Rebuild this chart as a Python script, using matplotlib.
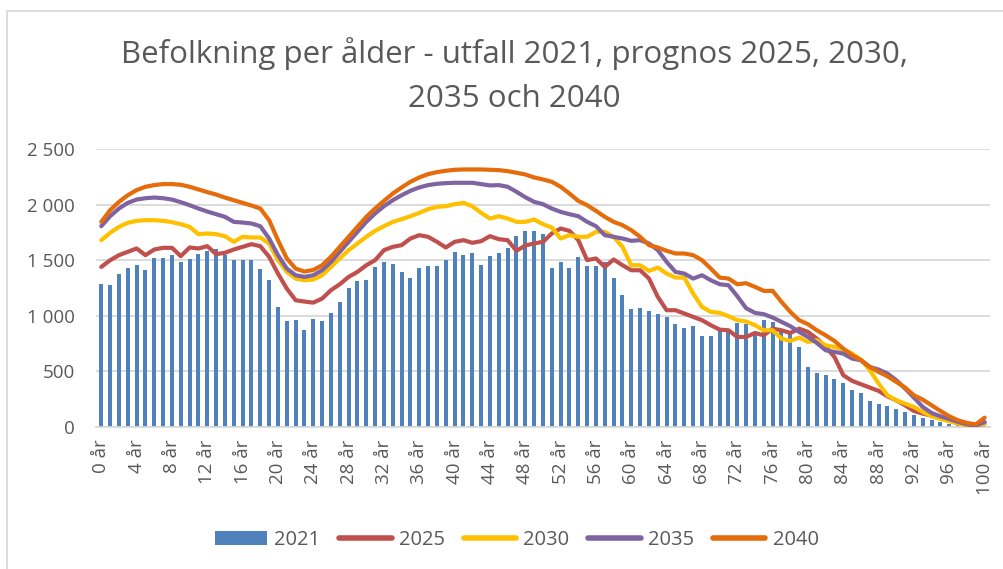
import matplotlib.pyplot as plt
from matplotlib.patches import Rectangle
from matplotlib.ticker import FuncFormatter

plt.rcParams['font.family'] = ['Open Sans', 'DejaVu Sans']

ages = list(range(101))

# utfall 2021 (staplar)
pop_2021 = [1292, 1277, 1379, 1430, 1460, 1415, 1518, 1518, 1545, 1485,
            1515, 1557, 1581, 1605, 1548, 1503, 1503, 1500, 1427, 1328,
            1082, 953, 962, 877, 971, 953, 1028, 1124, 1256, 1319,
            1322, 1442, 1484, 1469, 1394, 1340, 1430, 1454, 1451, 1500,
            1575, 1550, 1563, 1460, 1536, 1569, 1614, 1719, 1762, 1764,
            1740, 1436, 1490, 1436, 1530, 1448, 1448, 1484, 1346, 1193,
            1067, 1073, 1046, 1019, 989, 932, 889, 907, 823, 817,
            862, 871, 935, 927, 856, 968, 947, 871, 841, 721,
            541, 487, 466, 436, 400, 337, 310, 231, 210, 192,
            165, 135, 105, 84, 60, 45, 30, 21, 12, 8, 12]

# prognoser (linjer)
pop_2025 = [1442, 1502, 1548, 1578, 1608, 1548, 1599, 1614, 1614, 1539,
            1617, 1608, 1629, 1557, 1569, 1599, 1623, 1647, 1629, 1533,
            1382, 1247, 1142, 1130, 1120, 1157, 1232, 1286, 1352, 1397,
            1457, 1503, 1593, 1623, 1638, 1698, 1728, 1713, 1668, 1617,
            1668, 1683, 1659, 1674, 1719, 1692, 1683, 1587, 1635, 1653,
            1668, 1743, 1788, 1767, 1683, 1503, 1518, 1442, 1509, 1457,
            1412, 1412, 1337, 1172, 1052, 1052, 1022, 992, 962, 917,
            877, 871, 811, 811, 847, 826, 886, 871, 847, 886,
            856, 796, 721, 631, 466, 415, 385, 355, 325, 276,
            240, 195, 144, 120, 102, 84, 60, 42, 24, 9, 30]

pop_2030 = [1683, 1749, 1803, 1839, 1857, 1863, 1863, 1857, 1845, 1827,
            1803, 1737, 1743, 1737, 1719, 1668, 1713, 1707, 1707, 1653,
            1503, 1397, 1337, 1322, 1328, 1367, 1442, 1518, 1593, 1653,
            1713, 1767, 1809, 1848, 1872, 1899, 1929, 1962, 1983, 1989,
            2007, 2019, 1989, 1929, 1878, 1899, 1878, 1848, 1848, 1869,
            1827, 1797, 1698, 1728, 1713, 1713, 1758, 1758, 1713, 1623,
            1457, 1457, 1406, 1436, 1382, 1346, 1346, 1202, 1082, 1037,
            1028, 998, 962, 950, 917, 871, 871, 796, 775, 805,
            766, 781, 736, 721, 697, 661, 607, 511, 391, 285,
            240, 210, 180, 135, 96, 72, 51, 30, 15, 6, 30]

pop_2035 = [1809, 1899, 1968, 2019, 2049, 2061, 2067, 2061, 2049, 2025,
            1998, 1968, 1941, 1917, 1893, 1848, 1842, 1833, 1809, 1698,
            1548, 1427, 1367, 1352, 1367, 1412, 1487, 1578, 1668, 1758,
            1848, 1923, 1989, 2043, 2088, 2128, 2158, 2179, 2191, 2197,
            2200, 2200, 2200, 2188, 2176, 2179, 2164, 2119, 2070, 2028,
            2007, 1968, 1938, 1917, 1899, 1848, 1809, 1728, 1713, 1698,
            1677, 1683, 1653, 1593, 1487, 1397, 1382, 1337, 1367, 1322,
            1286, 1277, 1178, 1070, 1028, 1016, 986, 947, 908, 856,
            811, 757, 691, 676, 661, 616, 601, 541, 517, 481,
            421, 346, 264, 180, 126, 96, 72, 45, 24, 12, 45]

pop_2040 = [1848, 1953, 2028, 2088, 2134, 2164, 2179, 2188, 2188, 2182,
            2164, 2140, 2116, 2094, 2067, 2043, 2019, 1995, 1968, 1863,
            1683, 1518, 1427, 1400, 1415, 1457, 1533, 1623, 1713, 1803,
            1893, 1968, 2037, 2103, 2158, 2209, 2248, 2278, 2296, 2308,
            2317, 2320, 2320, 2320, 2317, 2314, 2305, 2290, 2275, 2248,
            2230, 2209, 2164, 2103, 2037, 1998, 1947, 1893, 1848, 1818,
            1773, 1713, 1638, 1617, 1587, 1563, 1563, 1548, 1503, 1427,
            1346, 1337, 1286, 1295, 1262, 1226, 1226, 1127, 1037, 962,
            926, 871, 826, 775, 706, 646, 601, 541, 496, 457,
            406, 355, 285, 246, 195, 144, 96, 60, 36, 24, 84]

line_series = [('2025', pop_2025, '#C0504D'),
               ('2030', pop_2030, '#FFC000'),
               ('2035', pop_2035, '#8064A2'),
               ('2040', pop_2040, '#E46C0A')]

text_col = '#595959'
grid_col = '#D9D9D9'
H = 569.0

fig = plt.figure(figsize=(10.04, 5.69), dpi=100)
ax = fig.add_axes([0.0956, 0.2496, 0.8904, 0.4877])

# ram runt diagrammet
fig.patches.append(Rectangle((7 / 1004, -0.1), 1.2, (H - 11) / H + 0.1,
                             transform=fig.transFigure, fill=False,
                             ec=grid_col, lw=1.3))

ax.bar(ages, pop_2021, width=0.45, color='#4F81BD', label='2021', zorder=2)
for name, vals, col in line_series:
    ax.plot(ages, vals, color=col, lw=3, label=name, zorder=3,
            solid_joinstyle='round', solid_capstyle='round')

ax.set_xlim(-0.6, 100.6)
ax.set_ylim(0, 2500)
ax.set_yticks(range(0, 2501, 500))
ax.yaxis.set_major_formatter(FuncFormatter(lambda v, p: f'{int(v):,}'.replace(',', ' ')))
ax.set_xticks(ages[::4])
ax.set_xticklabels([f'{a} år' for a in ages[::4]], rotation=90)
ax.grid(axis='y', color=grid_col, lw=1.3, zorder=0)
for s in ['top', 'right', 'left']:
    ax.spines[s].set_visible(False)
ax.spines['bottom'].set_color(grid_col)
ax.spines['bottom'].set_linewidth(1.3)
ax.tick_params(axis='both', length=0, colors=text_col, labelsize=13.5)
ax.tick_params(axis='y', pad=15)
ax.tick_params(axis='x', pad=9)

# rubrik på två rader
fig.text(0.512, 1 - 63.5 / H, 'Befolkning per ålder - utfall 2021, prognos 2025, 2030,',
         ha='center', va='baseline', fontsize=22.5, color=text_col)
fig.text(0.512, 1 - 107 / H, '2035 och 2040',
         ha='center', va='baseline', fontsize=22.5, color=text_col)

handles, labels = ax.get_legend_handles_labels()
order = [4, 0, 1, 2, 3]
leg = fig.legend([handles[i] for i in order], [labels[i] for i in order],
                 loc='center', bbox_to_anchor=(0.5145, 0.051), ncol=5, frameon=False,
                 fontsize=14.5, handlelength=2.6, handletextpad=0.35, columnspacing=0.95,
                 labelcolor=text_col)
for h in leg.get_lines():
    h.set_linewidth(4)

plt.savefig('out.png', dpi=100)
